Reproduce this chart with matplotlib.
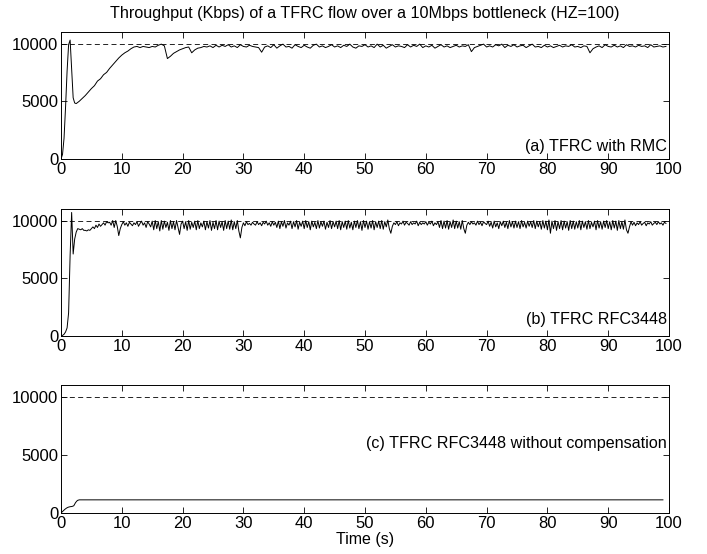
import numpy as np
import matplotlib
matplotlib.use("Agg")
import matplotlib.pyplot as plt

plt.rcParams["font.family"] = ["Liberation Sans", "DejaVu Sans"]
plt.rcParams["font.size"] = 11.5

# --- datos (Kbps) ---
link_capacity = 10000
x_ticks = list(range(0, 101, 10))
y_ticks = [0, 5000, 10000]

# (a) TFRC with RMC: 0.25 s hasta 2.75 s, luego cada 0.5 s
t_a = np.concatenate([np.arange(0, 3, 0.25), np.arange(3, 100, 0.5)])
thr_a = [
    0, 400, 1800, 4500, 7600, 9900, 10300, 7800, 5300, 4850, 4800, 4900,
    5000, 5250, 5500, 5800, 6100, 6350, 6750, 6950, 7300, 7500,
    7850, 8150, 8450, 8750, 9000, 9200, 9350, 9550, 9700, 9750,
    9650, 9750, 9700, 9650, 9750, 9700, 9850, 9950, 9800, 8700,
    8900, 9150, 9300, 9450, 9550, 9650, 9700, 9200, 9450, 9600,
    9650, 9750, 9700, 9800, 9650, 9850,
    9700, 9850, 9750, 9900, 9700, 9800, 9650, 9900, 9750, 9700,
    9850, 9750, 9700, 9650, 9250, 9700, 9800, 9650, 9900, 9600,
    9800, 9950, 9700, 9750, 9600, 9900, 9750, 9650, 9850, 9700,
    9600, 9850, 9950, 9700, 9800, 9650, 9750, 9900, 9700, 9800,
    9650, 9850, 9750, 9950, 9700, 9600, 9800, 9750, 9900, 9700,
    9800, 9650, 9950, 9700, 9850, 9600, 9750, 9900, 9700, 9800,
    9750, 9650, 9900, 9700, 9850, 9750, 9950, 9650, 9800, 9700,
    9850, 9600, 9750, 9900, 9700, 9800, 9650, 9750, 9850, 9700,
    9800, 9750, 9900, 9300, 9650, 9750, 9850, 9950, 9700, 9800,
    9700, 9900, 9800, 9950, 9650, 9850, 9750, 9900, 9700, 9800,
    9850, 9650, 9800, 9950, 9700, 9750, 9650, 9850, 9700, 9800,
    9650, 9750, 9850, 9700, 9800, 9750, 9900, 9700, 9750, 9650,
    9800, 9750, 9200, 9550, 9700, 9800, 9650, 9900, 9750, 9700,
    9850, 9700, 9800, 9650, 9900, 9750, 9800, 9700, 9850, 9750,
    9800, 9650, 9900, 9700, 9750, 9800, 9700, 9750,
]

# (b) TFRC RFC3448: cada 0.25 s
thr_b = [
    0, 50, 150, 350, 700, 2000, 7000, 10700, 7100, 8400,
    9000, 9300, 9250, 9200, 9300, 9150, 9150, 9100, 9200, 9150,
    9300, 9450, 9300, 9600, 9400, 9700, 9500, 9650, 9800, 9600,
    9900, 9800, 9850, 9600, 10000, 9400, 10000, 9500, 8700, 9300,
    9650, 9900, 9600, 9800, 9500, 9850, 9700, 9550, 9800, 9650, 9900, 9500, 9750, 9950, 9600, 9800, 9400, 9900, 9700, 9450,
    9950, 9200, 10000, 9300, 9900, 9100, 10000, 9250, 9950, 9400, 9850, 9150, 10000, 9300, 9900, 9200, 10000, 9400, 8800, 9700,
    9950, 9300, 9900, 9150, 10000, 9250, 9850, 9400, 9950, 9200, 10000, 9300, 9800, 9450, 9950, 9200, 9900, 9350, 10000, 9150,
    9850, 9300, 10000, 9200, 9950, 9400, 9900, 9150, 10000, 9300, 9950, 9250, 10050, 9200, 9900, 9300, 10000, 9100, 8500, 9400,
    9800, 9550, 9900, 9650, 9750, 9600, 9850, 9700, 9600, 9900, 9650, 9800, 9550, 9850, 9700, 9950, 9600, 9800, 9500, 9900,
    9600, 9850, 9400, 9950, 9300, 9900, 9500, 10000, 9350, 9800, 9600, 9950, 9300, 9900, 9450, 10000, 9250, 9850, 9500, 9950,
    9300, 10000, 9400, 9900, 9200, 9950, 9450, 9850, 9300, 10000, 9350, 9900, 9500, 9950, 9250, 9850, 9400, 10000, 9300, 9900,
    9450, 9950, 9300, 10000, 9200, 9900, 9400, 9950, 9250, 10000, 9350, 9850, 9200, 9950, 9400, 10000, 9300, 9900, 9150, 10000,
    9400, 9950, 9250, 9900, 9350, 10000, 9200, 9900, 9400, 9950, 9300, 10000, 9250, 9900, 9450, 10050, 9300, 8900, 9500, 9800,
    9650, 9900, 9550, 9800, 9700, 9950, 9600, 9850, 9750, 9600, 9900, 9650, 9800, 9700, 9950, 9550, 9850, 9650, 9800, 9700,
    9900, 9600, 9850, 9700, 9950, 9550, 9800, 9650, 9900, 9400, 10000, 9300, 9950, 9350, 10000, 9250, 9900, 9400, 10050, 9300,
    9950, 9350, 9900, 9250, 10000, 9300, 8900, 9600, 9850, 9650, 9900, 9700, 9800, 9600, 9950, 9650, 9850, 9550, 9900, 9750,
    9650, 9950, 9500, 9850, 9350, 9950, 9450, 9800, 9300, 9900, 9550, 9950, 9400, 9850, 9300, 10000, 9450, 9900, 9350, 9950,
    9400, 9900, 9300, 10000, 9450, 9850, 9350, 9950, 9500, 9900, 9400, 10000, 9300, 9950, 9450, 9900, 9250, 10000, 9350, 9950,
    9200, 10050, 8900, 9950, 9300, 10000, 9150, 9900, 9300, 10000, 9200, 9950, 9350, 9900, 9150, 10000, 9300, 9950, 9250, 9900,
    9350, 10000, 9200, 9950, 9400, 9900, 9250, 10000, 9300, 9850, 9450, 9950, 9200, 10000, 9350, 9900, 9250, 9950, 9400, 10000,
    9300, 9900, 9200, 10000, 9350, 9950, 9150, 10000, 9300, 9900, 9250, 10050, 9200, 8900, 9450, 9900, 9600, 9850, 9550, 9800,
    9650, 9900, 9600, 9750, 9850, 9550, 9800, 9700, 9900, 9600, 9750, 9850, 9650, 9900, 9700, 9800, 9600, 9850, 9750,
]
t_b = np.arange(len(thr_b)) * 0.25

# (c) sin compensacion
t_c = [0, 0.3, 0.6, 0.9, 1.2, 1.5, 1.8, 2.1, 2.4, 2.7, 3.0, 99.0]
thr_c = [0, 150, 300, 420, 500, 540, 560, 620, 900, 1080, 1130, 1130]

paneles = [
    (t_a, thr_a, "(a) TFRC with RMC", 1050),
    (t_b, thr_b, "(b) TFRC RFC3448", 1400),
    (t_c, thr_c, "(c) TFRC RFC3448 without compensation", 6000),
]

fig = plt.figure(figsize=(7.07, 5.54), dpi=100)
W, H = 707.0, 554.0
cajas = [(32, 159), (209, 336), (385, 513)]  # top, bottom en pixeles

for (t, thr, etiqueta, y_txt), (top, bot) in zip(paneles, cajas):
    ax = fig.add_axes([61 / W, 1 - bot / H, (669 - 61) / W, (bot - top) / H])
    ax.plot(t, thr, color="k", linewidth=0.7)
    ax.plot([0, 100], [link_capacity, link_capacity], color="k",
            linewidth=0.6, dashes=(6, 4))
    ax.set_xlim(0, 100)
    ax.set_ylim(0, 11000)
    ax.set_xticks(x_ticks)
    ax.set_yticks(y_ticks)
    ax.tick_params(direction="in", top=True, right=True, length=4,
                   width=0.6, pad=2, labelsize=12)
    for s in ax.spines.values():
        s.set_linewidth(0.7)
    ax.text(99.7, y_txt, etiqueta, ha="right", va="center", fontsize=11.6)
    if etiqueta.startswith("(a)"):
        ax.set_title("Throughput (Kbps) of a TFRC flow over a 10Mbps bottleneck (HZ=100)",
                     fontsize=11.6, pad=10)
    if etiqueta.startswith("(c)"):
        ax.set_xlabel("Time (s)", fontsize=11.5, labelpad=1)

fig.savefig("out.png", dpi=100)
